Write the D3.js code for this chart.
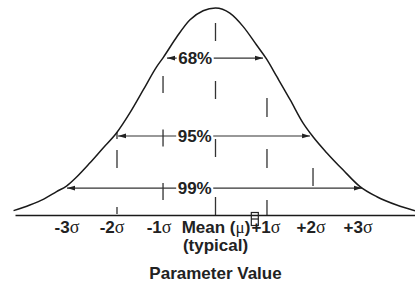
<!DOCTYPE html>
<html>
<head>
<meta charset="utf-8">
<script src="https://cdn.jsdelivr.net/npm/d3@7"></script>
<style>
  html, body { margin: 0; padding: 0; background: #fff; }
  svg { display: block; }
</style>
</head>
<body>
<div id="chart"></div>
<script>
// Bell curve: position in sigma units, relative height (peak = 1)
const curveSigma = [-4.08, -3.75, -3.47, -3.21, -3.01, -2.80, -2.54, -2.27, -2.00, -1.73, -1.46, -1.19, -1.05, -0.78, -0.52, -0.25, 0,
                    0.29, 0.56, 0.83, 1.03, 1.24, 1.51, 1.77, 1.97, 2.25, 2.58, 2.92, 3.26, 3.66, 4.03];
const curveHeight = [0.021, 0.048, 0.077, 0.113, 0.140, 0.185, 0.251, 0.324, 0.396, 0.493, 0.604, 0.716, 0.763, 0.861, 0.942, 0.987, 1.0,
                     0.975, 0.910, 0.821, 0.754, 0.668, 0.556, 0.444, 0.378, 0.300, 0.217, 0.137, 0.088, 0.048, 0.021];

// Coverage bands (arrows)
const bandLabels = ['68%', '95%', '99%'];
const bandFrom = [-0.98, -1.97, -3.0];
const bandTo = [0.96, 1.91, 2.96];
const bandLevel = [0.758, 0.382, 0.130];
const bandLabelAt = [-0.41, -0.42, -0.42];

// Dashed guide lines
const guideSigma = [-1.99, -1.06, 0, 1.04, 1.97];
const guideTop = [0.401, 0.671, 0.928, 0.565, 0.227];
const guideBottom = [0, 0.072, 0, 0, 0.140];

// Axis labels
const tickNumbers = ['-3', '-2', '-1', null, '+1', '+2', '+3'];
const tickAt = [-3.0, -2.09, -1.14, 0.01, 1.02, 1.93, 2.88];
const meanLabel = ['Mean (', 'μ', ')'];
const meanNote = '(typical)';
const axisTitle = 'Parameter Value';

const width = 415;
const height = 284;
const sans = '"Liberation Sans", Arial, Helvetica, sans-serif';
const serif = '"Liberation Serif", "Times New Roman", serif';

const svg = d3.select('#chart').append('svg')
    .attr('width', width)
    .attr('height', height);

const x = d3.scaleLinear().domain([-3, 3]).range([67, 364]);
const y = d3.scaleLinear().domain([0, 1]).range([215, 8]);

// arrowhead markers
const defs = svg.append('defs');
defs.append('marker')
    .attr('id', 'head')
    .attr('viewBox', '0 -3 8 6')
    .attr('refX', 8)
    .attr('refY', 0)
    .attr('markerUnits', 'userSpaceOnUse')
    .attr('markerWidth', 8)
    .attr('markerHeight', 6)
    .attr('orient', 'auto-start-reverse')
    .append('path')
    .attr('d', 'M0,-2.4L8,0L0,2.4Z')
    .attr('fill', '#222');

// dashed guides
const guideDash = ['7,11,18,39', '17,36.5', '18,40', '19,32', null];
svg.append('g').selectAll('line')
    .data(guideSigma)
    .join('line')
    .attr('x1', d => x(d))
    .attr('x2', d => x(d))
    .attr('y1', (d, i) => y(guideTop[i]))
    .attr('y2', (d, i) => y(guideBottom[i]))
    .attr('stroke', '#333')
    .attr('stroke-width', 1.3)
    .attr('stroke-dasharray', (d, i) => guideDash[i]);

// band arrows
const band = svg.append('g').selectAll('g')
    .data(bandLabels)
    .join('g');

band.append('line')
    .attr('x1', (d, i) => x(bandFrom[i]))
    .attr('x2', (d, i) => x(bandTo[i]))
    .attr('y1', (d, i) => y(bandLevel[i]))
    .attr('y2', (d, i) => y(bandLevel[i]))
    .attr('stroke', '#333')
    .attr('stroke-width', 1.1)
    .attr('marker-start', 'url(#head)')
    .attr('marker-end', 'url(#head)');

const bandBg = band.append('rect').attr('fill', '#fff');

const bandText = band.append('text')
    .attr('x', (d, i) => x(bandLabelAt[i]))
    .attr('y', (d, i) => y(bandLevel[i]))
    .attr('dy', '0.36em')
    .attr('text-anchor', 'middle')
    .attr('font-family', sans)
    .attr('font-weight', 'bold')
    .attr('font-size', 17)
    .attr('fill', '#222')
    .text(d => d);

bandText.each(function (d, i) {
    const b = this.getBBox();
    d3.select(bandBg.nodes()[i])
        .attr('x', b.x - 1.5)
        .attr('y', b.y + 2)
        .attr('width', b.width + 3)
        .attr('height', b.height - 4);
});

// curve
const line = d3.line()
    .x(d => x(d[0]))
    .y(d => y(d[1]))
    .curve(d3.curveMonotoneX);

svg.append('path')
    .datum(curveSigma.map((s, i) => [s, curveHeight[i]]))
    .attr('d', line)
    .attr('fill', 'none')
    .attr('stroke', '#1a1a1a')
    .attr('stroke-width', 1.5);

// baseline axis
const axisScale = x.copy().domain([x.invert(15), x.invert(415)]).range([15, 415]);
const axis = svg.append('g')
    .attr('transform', `translate(0,${y(0)})`)
    .call(d3.axisBottom(axisScale).tickValues([]).tickSizeOuter(0));
axis.select('.domain')
    .attr('stroke', '#1a1a1a')
    .attr('stroke-width', 1.6);

// tick labels
const labels = svg.append('g')
    .attr('font-family', sans)
    .attr('font-size', 17)
    .attr('fill', '#222');

const tick = labels.selectAll('text')
    .data(tickAt)
    .join('text')
    .attr('x', d => x(d))
    .attr('y', 233)
    .attr('text-anchor', 'middle');

tick.each(function (d, i) {
    const t = d3.select(this);
    if (tickNumbers[i] === null) {
        t.append('tspan').attr('font-weight', 'bold').text(meanLabel[0]);
        t.append('tspan').attr('font-family', serif).text(meanLabel[1]);
        t.append('tspan').attr('font-weight', 'bold').text(meanLabel[2]);
    } else {
        t.append('tspan').attr('font-weight', 'bold').text(tickNumbers[i]);
        t.append('tspan').attr('font-family', serif).attr('font-size', 18).text('σ');
    }
});

// stray box glyph after the mean label
const meanBox = tick.filter((d, i) => tickNumbers[i] === null).node().getBBox();
const boxX = meanBox.x + meanBox.width + 1;
svg.append('rect')
    .attr('x', boxX)
    .attr('y', 212.5)
    .attr('width', 7)
    .attr('height', 13)
    .attr('fill', 'none')
    .attr('stroke', '#222')
    .attr('stroke-width', 1.2);
svg.append('line')
    .attr('x1', boxX).attr('x2', boxX + 7)
    .attr('y1', 219).attr('y2', 219)
    .attr('stroke', '#222')
    .attr('stroke-width', 1.2);

labels.append('text')
    .attr('x', x(0))
    .attr('y', 251)
    .attr('text-anchor', 'middle')
    .attr('font-weight', 'bold')
    .text(meanNote);

labels.append('text')
    .attr('x', x(0))
    .attr('y', 279)
    .attr('text-anchor', 'middle')
    .attr('font-weight', 'bold')
    .text(axisTitle);
</script>
</body>
</html>
